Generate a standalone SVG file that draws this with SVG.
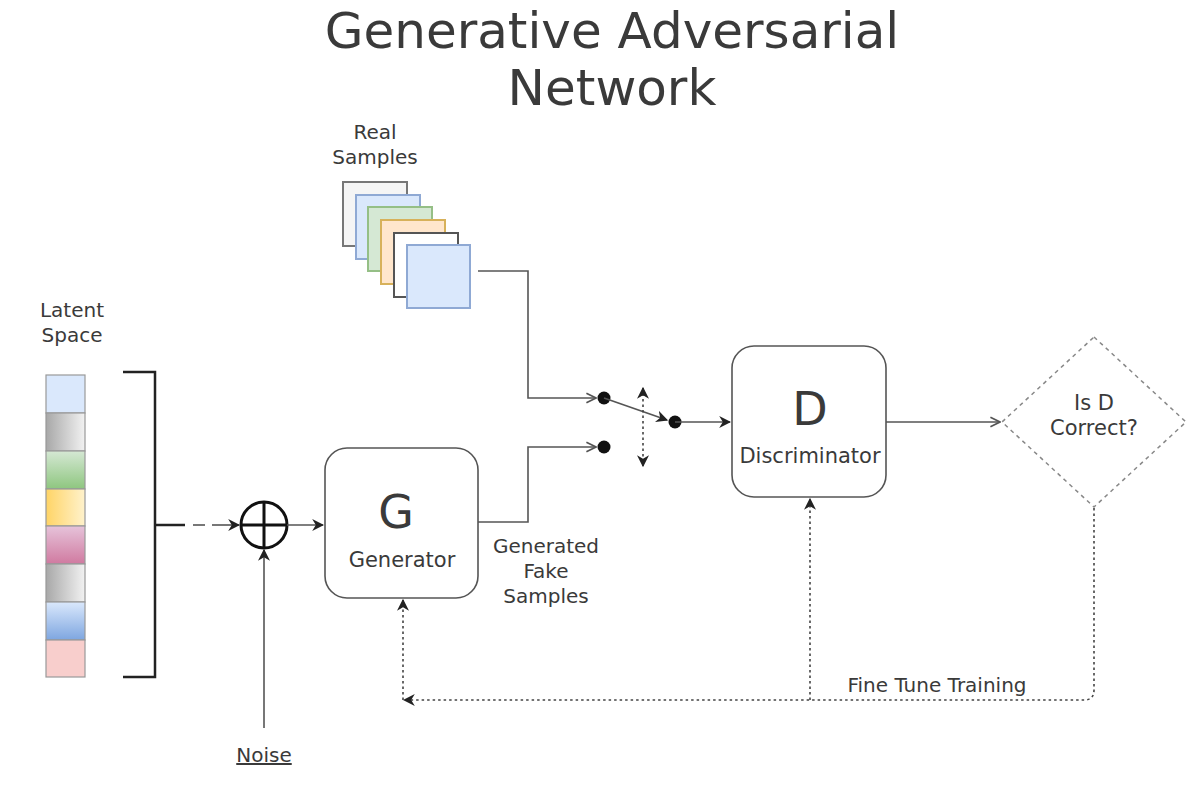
<svg xmlns="http://www.w3.org/2000/svg" width="1200" height="787" viewBox="0 0 1200 787">
<style>
text{font-family:"DejaVu Sans","Verdana",sans-serif;fill:#3a3a3a}
.lbl{font-size:20px;text-anchor:middle}
.big{font-size:46px;text-anchor:middle}
.box{fill:#fff;stroke:#555;stroke-width:1.6}
.wire{fill:none;stroke:#555;stroke-width:1.6}
.dot{fill:none;stroke:#444;stroke-width:1.6;stroke-dasharray:2.5 3}
.sq{stroke-width:2}
.lat{stroke:#999;stroke-width:1.2}
</style>
<defs>
<marker id="arr" viewBox="0 0 10 10" refX="9" refY="5" markerWidth="12" markerHeight="12" markerUnits="userSpaceOnUse" orient="auto">
<path d="M0,0 L10,5 L0,10 L3,5 z" fill="#222"/>
</marker>
<marker id="open" viewBox="0 0 10 10" refX="9" refY="5" markerWidth="12" markerHeight="12" markerUnits="userSpaceOnUse" orient="auto">
<path d="M1,1 L9,5 L1,9" fill="none" stroke="#555" stroke-width="1.4"/>
</marker>
<marker id="arrS" viewBox="0 0 10 10" refX="1" refY="5" markerWidth="12" markerHeight="12" markerUnits="userSpaceOnUse" orient="auto">
<path d="M10,0 L0,5 L10,10 L7,5 z" fill="#222"/>
</marker>
<linearGradient id="gGray" x1="0" y1="0" x2="1" y2="0"><stop offset="0" stop-color="#a8a8a8"/><stop offset="1" stop-color="#f2f2f2"/></linearGradient>
<linearGradient id="gGreen" x1="0" y1="0" x2="0" y2="1"><stop offset="0" stop-color="#d5e8d4"/><stop offset="1" stop-color="#8ec67f"/></linearGradient>
<linearGradient id="gYel" x1="0" y1="0" x2="1" y2="0"><stop offset="0" stop-color="#ffd466"/><stop offset="1" stop-color="#fff2cc"/></linearGradient>
<linearGradient id="gPink" x1="0" y1="0" x2="0" y2="1"><stop offset="0" stop-color="#e6c3da"/><stop offset="1" stop-color="#d07aa0"/></linearGradient>
<linearGradient id="gBlue" x1="0" y1="0" x2="0" y2="1"><stop offset="0" stop-color="#dae8fc"/><stop offset="1" stop-color="#7ea6e0"/></linearGradient>
</defs>
<rect width="1200" height="787" fill="#fff"/>

<g id="title">
<text x="612" y="48" style="font-size:50px;text-anchor:middle">Generative Adversarial</text>
<text x="612" y="105" style="font-size:50px;text-anchor:middle">Network</text>
</g>

<g id="real-samples">
<text class="lbl" x="375" y="139">Real</text>
<text class="lbl" x="375" y="164">Samples</text>
<rect class="sq" x="343" y="182" width="64" height="64" fill="#f5f5f5" stroke="#777"/>
<rect class="sq" x="356" y="195" width="64" height="64" fill="#dae8fc" stroke="#8fa9d4"/>
<rect class="sq" x="368" y="207" width="64" height="64" fill="#d5e8d4" stroke="#95bf86"/>
<rect class="sq" x="381" y="220" width="64" height="64" fill="#ffe6cc" stroke="#d7b15a"/>
<rect class="sq" x="394" y="233" width="64" height="64" fill="#fff" stroke="#555"/>
<rect class="sq" x="407" y="245" width="63" height="63" fill="#dae8fc" stroke="#8fa9d4"/>
</g>

<g id="latent-space">
<text class="lbl" x="72" y="317">Latent</text>
<text class="lbl" x="72" y="342">Space</text>
<rect class="lat" x="46" y="375" width="39" height="38" fill="#dae8fc" stroke="#9db6dd"/>
<rect class="lat" x="46" y="413" width="39" height="38" fill="url(#gGray)"/>
<rect class="lat" x="46" y="451" width="39" height="38" fill="url(#gGreen)"/>
<rect class="lat" x="46" y="489" width="39" height="37" fill="url(#gYel)"/>
<rect class="lat" x="46" y="526" width="39" height="38" fill="url(#gPink)"/>
<rect class="lat" x="46" y="564" width="39" height="38" fill="url(#gGray)"/>
<rect class="lat" x="46" y="602" width="39" height="38" fill="url(#gBlue)"/>
<rect class="lat" x="46" y="640" width="39" height="37" fill="#f8cecc"/>
<path d="M123,372 H155 V677 H123" fill="none" stroke="#222" stroke-width="2.5"/>
</g>

<g id="sum">
<circle cx="264" cy="525" r="23" fill="#fff" stroke="#111" stroke-width="3"/>
<path d="M241,525 H287 M264,502 V548" stroke="#111" stroke-width="3"/>
</g>

<g id="noise">
<text x="264" y="762" style="font-size:20px;text-anchor:middle;text-decoration:underline">Noise</text>
</g>

<g id="generator">
<rect class="box" x="325" y="448" width="153" height="150" rx="22"/>
<text class="big" x="396" y="528">G</text>
<text class="lbl" x="402" y="567" style="font-size:21px">Generator</text>
</g>

<g id="fake-label">
<text class="lbl" x="546" y="553">Generated</text>
<text class="lbl" x="546" y="578">Fake</text>
<text class="lbl" x="546" y="603">Samples</text>
</g>

<g id="switch">
<circle cx="604" cy="398" r="6.5" fill="#111"/>
<circle cx="604" cy="447" r="6.5" fill="#111"/>
<circle cx="675" cy="422" r="6.5" fill="#111"/>
</g>

<g id="discriminator">
<rect class="box" x="732" y="346" width="154" height="151" rx="22"/>
<text class="big" x="810" y="425">D</text>
<text class="lbl" x="810" y="463" style="font-size:21px">Discriminator</text>
</g>

<g id="decision">
<path d="M1094,337 L1186,422 L1094,507 L1002,422 Z" fill="#fff" stroke="#888" stroke-width="1.5" stroke-dasharray="4 4"/>
<text class="lbl" x="1094" y="410" style="font-size:21px">Is D</text>
<text class="lbl" x="1094" y="435" style="font-size:21px">Correct?</text>
</g>

<g id="fine-tune-label">
<text class="lbl" x="937" y="692">Fine Tune Training</text>
</g>

<g id="connectors">
<path d="M155,525 H185" stroke="#222" stroke-width="2.5"/>
<path d="M193,525 H205" class="wire"/>
<path d="M212,525 H239" class="wire" marker-end="url(#arr)"/>
<path d="M287,525 H323" class="wire" marker-end="url(#arr)"/>
<path d="M264,728 V550" class="wire" marker-end="url(#arr)"/>
<path d="M478,271 H528 V398 H596" class="wire" marker-end="url(#open)"/>
<path d="M478,522 H528 V447 H596" class="wire" marker-end="url(#open)"/>
<path d="M604,398 L667,420" class="wire" marker-end="url(#arr)"/>
<path d="M643,388 V466" class="dot" marker-start="url(#arrS)" marker-end="url(#arr)"/>
<path d="M675,422 H730" class="wire" marker-end="url(#arr)"/>
<path d="M886,422 H1000" class="wire" marker-end="url(#open)"/>
<path d="M1094,508 V690 Q1094,700 1084,700 H404" class="dot" marker-end="url(#arr)"/>
<path d="M403,700 V600" class="dot" marker-end="url(#arr)"/>
<path d="M810,700 V499" class="dot" marker-end="url(#arr)"/>
</g>
</svg>
